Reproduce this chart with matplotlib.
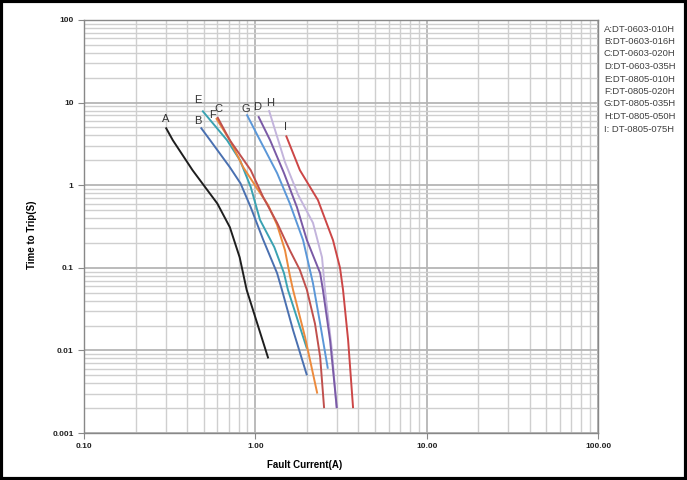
import matplotlib
matplotlib.use("Agg")
import matplotlib.pyplot as plt
from matplotlib.patches import Rectangle
from matplotlib.ticker import LogLocator, NullFormatter, FixedLocator, FixedFormatter

plt.rcParams['font.family'] = ['Liberation Sans', 'DejaVu Sans']

# ---- data ----
a_x = [0.30, 0.33, 0.43, 0.60, 0.71, 0.81, 0.89, 1.19]
a_y = [5.0, 3.5, 1.52, 0.60, 0.31, 0.134, 0.054, 0.008]

b_x = [0.48, 0.545, 0.71, 0.82, 0.94, 1.11, 1.34, 1.43, 1.66, 2.0]
b_y = [5.0, 3.5, 1.65, 1.05, 0.54, 0.22, 0.086, 0.054, 0.0176, 0.005]

c_x = [0.60, 0.71, 0.94, 1.11, 1.34, 1.59, 1.82, 2.0, 2.23, 2.39, 2.52]
c_y = [6.7, 3.5, 1.52, 0.72, 0.35, 0.163, 0.094, 0.054, 0.021, 0.0083, 0.002]

d_x = [1.04, 1.22, 1.47, 1.75, 2.0, 2.39, 2.48, 2.73, 2.92, 2.99]
d_y = [6.85, 3.5, 1.40, 0.54, 0.216, 0.086, 0.054, 0.0133, 0.0033, 0.002]

e_x = [0.49, 0.684, 0.814, 0.94, 1.065, 1.29, 1.47, 1.55, 2.0]
e_y = [8.0, 3.5, 2.0, 0.95, 0.38, 0.178, 0.086, 0.054, 0.0105]

f_x = [0.59, 0.71, 0.85, 1.04, 1.19, 1.34, 1.49, 1.59, 1.66, 1.95, 2.3]
f_y = [6.5, 3.5, 1.65, 0.87, 0.57, 0.33, 0.163, 0.081, 0.054, 0.0145, 0.003]

g_x = [0.89, 1.065, 1.34, 1.59, 1.90, 2.17, 2.39, 2.65]
g_y = [7.2, 3.5, 1.40, 0.60, 0.216, 0.065, 0.021, 0.006]

h_x = [1.2, 1.49, 1.78, 2.17, 2.45, 2.55, 2.8, 2.98]
h_y = [8.1, 1.9, 0.76, 0.35, 0.134, 0.054, 0.01, 0.002]

i_x = [1.51, 1.82, 2.32, 2.84, 3.12, 3.25, 3.48, 3.72]
i_y = [4.0, 1.52, 0.66, 0.216, 0.10, 0.054, 0.0133, 0.002]

letters = ['A', 'B', 'C', 'D', 'E', 'F', 'G', 'H', 'I']
parts = ['A:DT-0603-010H', 'B:DT-0603-016H', 'C:DT-0603-020H', 'D:DT-0603-035H',
         'E:DT-0805-010H', 'F:DT-0805-020H', 'G:DT-0805-035H', 'H:DT-0805-050H',
         'I: DT-0805-075H']
label_x = [0.30, 0.463, 0.606, 1.023, 0.463, 0.559, 0.882, 1.218, 1.49]
label_y = [6.3, 5.93, 8.33, 8.8, 10.7, 7.05, 8.33, 9.84, 5.04]

y_ticks = [0.001, 0.01, 0.1, 1, 10, 100]
y_tick_labels = ['0.001', '0.01', '0.1', '1', '10', '100']
x_ticks = [0.1, 1, 10, 100]
x_tick_labels = ['0.10', '1.00', '10.00', '100.00']

xs = [a_x, b_x, c_x, d_x, e_x, f_x, g_x, h_x, i_x]
ys = [a_y, b_y, c_y, d_y, e_y, f_y, g_y, h_y, i_y]
colors = ['#1e1e1e', '#4a70b0', '#c0504d', '#7a5aa6', '#3aa2b2',
          '#ec8a3c', '#5b97d8', '#c3b4dc', '#cc4646']
# draw order so that overlaps look like the reference
order = [0, 1, 4, 5, 2, 6, 7, 3, 8]

fig = plt.figure(figsize=(6.87, 4.8), dpi=100)
ax = fig.add_axes([84/687, 1-433/480, (598-84)/687, (433-20)/480])
ax.set_xscale('log')
ax.set_yscale('log')
ax.set_xlim(0.1, 100)
ax.set_ylim(0.001, 100)

ax.xaxis.set_minor_locator(LogLocator(base=10, subs=range(2, 10)))
ax.yaxis.set_minor_locator(LogLocator(base=10, subs=range(2, 10)))
ax.xaxis.set_minor_formatter(NullFormatter())
ax.yaxis.set_minor_formatter(NullFormatter())
ax.xaxis.set_major_locator(FixedLocator(x_ticks))
ax.xaxis.set_major_formatter(FixedFormatter(x_tick_labels))
ax.yaxis.set_major_locator(FixedLocator(y_ticks))
ax.yaxis.set_major_formatter(FixedFormatter(y_tick_labels))

ax.grid(True, which='minor', color='#cfcfcf', linewidth=1.0)
ax.grid(True, which='major', color='#b5b5b5', linewidth=1.3)
ax.set_axisbelow(True)
ax.tick_params(which='both', direction='out', color='#888888', labelsize=6)
ax.tick_params(which='major', length=4)
ax.tick_params(which='minor', length=0)
for lab in ax.get_xticklabels() + ax.get_yticklabels():
    lab.set_fontweight('bold')
    lab.set_color('#222222')
for s in ax.spines.values():
    s.set_color('#888888')
    s.set_linewidth(1.0)

for k in order:
    ax.plot(xs[k], ys[k], color=colors[k], linewidth=1.4, solid_capstyle='butt',
            solid_joinstyle='round')

for k in range(len(letters)):
    ax.text(label_x[k], label_y[k], letters[k], fontsize=8, color='#333333',
            ha='center', va='center')

ax.set_xlabel('Fault Current(A)', fontsize=7, fontweight='bold')
ax.xaxis.set_label_coords((305-84)/(598-84), -0.065)
ax.set_ylabel('Time to Trip(S)', fontsize=7, fontweight='bold')
ax.yaxis.set_label_coords(-0.092, 0.48)

for k, p in enumerate(parts):
    fig.text(604/687, 1-(29 + 12.5*k)/480, p, fontsize=6.8, color='#404040',
             ha='left', va='center')

fig.patches.append(Rectangle((0.002, 0.003), 0.996, 0.994, transform=fig.transFigure,
                             fill=False, edgecolor='black', linewidth=3))

fig.savefig('out.png', dpi=100)
